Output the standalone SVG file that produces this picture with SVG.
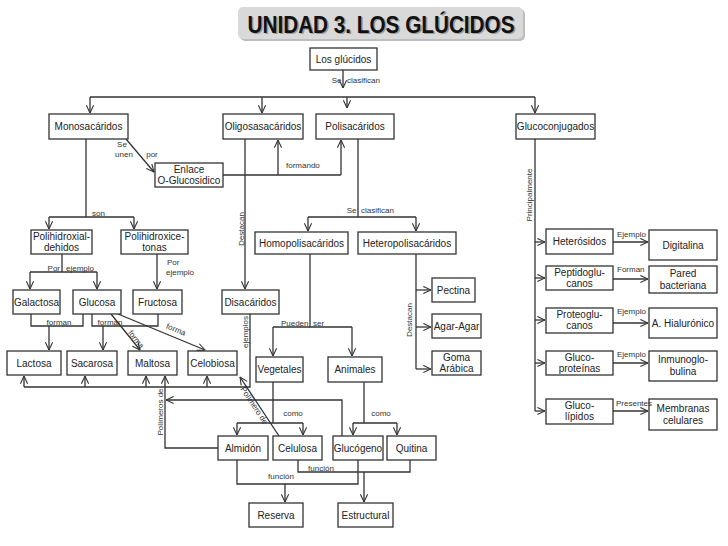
<svg xmlns="http://www.w3.org/2000/svg" width="728" height="546" viewBox="0 0 728 546">
<defs>
<marker id="a" viewBox="0 0 10 10" refX="9.5" refY="5" markerWidth="9" markerHeight="9" orient="auto" markerUnits="userSpaceOnUse">
<path d="M1,1 L9.5,5 L1,9" fill="none" stroke="#333" stroke-width="1.2"/>
</marker>
<style>
.n rect{fill:#fff;stroke:#333;stroke-width:1.3}
.n text,.l{font-family:"Liberation Sans",Arial,sans-serif;fill:#222}
.n text{font-size:10px;text-anchor:middle}
.l{font-size:8px;fill:#333}
.m{text-anchor:middle}
.e{text-anchor:end}
#c path{fill:none;stroke:#333;stroke-width:1.3}
.ar{marker-end:url(#a)}
</style>
</defs>
<rect width="728" height="546" fill="#fff"/>
<g id="title">
<rect x="240" y="9" width="285" height="32" rx="5" fill="#bdbdbd"/>
<rect x="238" y="7" width="285" height="32" rx="5" fill="#d9d9d9"/>
<text x="382.5" y="34.2" font-family="Liberation Sans,Arial,sans-serif" font-weight="bold" font-size="23" text-anchor="middle" textLength="267" lengthAdjust="spacingAndGlyphs" fill="#9a9a9a">UNIDAD 3. LOS GLÚCIDOS</text>
<text x="381" y="32.7" font-family="Liberation Sans,Arial,sans-serif" font-weight="bold" font-size="23" text-anchor="middle" textLength="267" lengthAdjust="spacingAndGlyphs" fill="#111">UNIDAD 3. LOS GLÚCIDOS</text>
</g>
<g id="c">
<path class="ar" d="M343,70 V88"/>
<path d="M90,97 H535"/>
<path class="ar" d="M90,97 V113"/>
<path class="ar" d="M262,97 V113"/>
<path class="ar" d="M347,97 V108"/>
<path class="ar" d="M535,97 V113"/>
<path class="ar" d="M126,139 L154,172"/>
<path d="M223,175 H341"/>
<path class="ar" d="M278,175 V140"/>
<path class="ar" d="M341,175 V140"/>
<path d="M86,139 V217 M49,217 H134"/>
<path class="ar" d="M49,217 V229"/>
<path class="ar" d="M134,217 V229"/>
<path class="ar" d="M245,139 V289"/>
<path d="M358,139 V217 M308,217 H416"/>
<path class="ar" d="M308,217 V231"/>
<path class="ar" d="M416,217 V231"/>
<path d="M62,254 V272 M30,272 H97"/>
<path class="ar" d="M30,272 V289"/>
<path class="ar" d="M97,272 V289"/>
<path class="ar" d="M157,254 V289"/>
<path d="M31,314 V326 H83 V314"/>
<path class="ar" d="M49,326 V350"/>
<path d="M92,314 V326 H158 V314"/>
<path class="ar" d="M103,326 V350"/>
<path class="ar" d="M111,314 L140,350"/>
<path class="ar" d="M118,314 L205,350"/>
<path d="M250,314 V387 H24"/>
<path class="ar" d="M24,387 V376"/>
<path class="ar" d="M85,387 V376"/>
<path class="ar" d="M146,387 V376"/>
<path class="ar" d="M207,387 V376"/>
<path d="M310,254 V327 M273,327 H352"/>
<path class="ar" d="M273,327 V356"/>
<path class="ar" d="M352,327 V356"/>
<path d="M416,254 V369"/>
<path class="ar" d="M416,290 H431"/>
<path class="ar" d="M416,327 H431"/>
<path class="ar" d="M416,369 H431"/>
<path d="M535,139 V411"/>
<path class="ar" d="M535,242 H545"/>
<path class="ar" d="M535,278 H545"/>
<path class="ar" d="M535,320 H545"/>
<path class="ar" d="M535,363 H545"/>
<path class="ar" d="M535,411 H545"/>
<path class="ar" d="M613,242 H648"/>
<path class="ar" d="M613,279 H648"/>
<path class="ar" d="M613,323 H648"/>
<path class="ar" d="M613,363 H648"/>
<path class="ar" d="M613,411 H648"/>
<path d="M273,382 V423 M237,423 H303"/>
<path class="ar" d="M237,423 V435"/>
<path class="ar" d="M303,423 V435"/>
<path d="M364,382 V423 M353,423 H397"/>
<path class="ar" d="M353,423 V435"/>
<path class="ar" d="M397,423 V435"/>
<path class="ar" d="M218,448 H165 V376"/>
<path class="ar" d="M342,436 V400 H166"/>
<path class="ar" d="M279,436 L240,377"/>
<path d="M237,460 V484 H358 V460"/>
<path class="ar" d="M285,484 V502"/>
<path d="M298,460 V472 H410 V460"/>
<path class="ar" d="M364,472 V502"/>
</g>
<g id="n-glucidos" class="n"><rect x="310" y="48" width="67" height="22"/><text x="343.5" y="63">Los glúcidos</text></g>
<g id="n-mono" class="n"><rect x="49" y="114" width="79" height="25"/><text x="88.5" y="130">Monosacáridos</text></g>
<g id="n-oligo" class="n"><rect x="223" y="114" width="80" height="25"/><text x="263" y="130">Oligosasacáridos</text></g>
<g id="n-poli" class="n"><rect x="316" y="114" width="78" height="25"/><text x="355" y="130">Polisacáridos</text></g>
<g id="n-glucoconj" class="n"><rect x="516" y="114" width="79" height="25"/><text x="555.5" y="130">Glucoconjugados</text></g>
<g id="n-enlace" class="n"><rect x="155" y="163" width="68" height="24"/><text x="189" y="173">Enlace</text><text x="189" y="184">O-Glucosidico</text></g>
<g id="n-pald" class="n"><rect x="31" y="230" width="61" height="24"/><text x="61.5" y="240">Polihidroxial-</text><text x="61.5" y="251">dehidos</text></g>
<g id="n-pket" class="n"><rect x="121" y="230" width="67" height="24"/><text x="154.5" y="240">Polihidroxice-</text><text x="154.5" y="251">tonas</text></g>
<g id="n-homo" class="n"><rect x="255" y="232" width="93" height="22"/><text x="301.5" y="246.5">Homopolisacáridos</text></g>
<g id="n-hetero" class="n"><rect x="358" y="232" width="98" height="22"/><text x="407" y="246.5">Heteropolisacáridos</text></g>
<g id="n-heterosidos" class="n"><rect x="546" y="229" width="67" height="25"/><text x="579.5" y="245">Heterósidos</text></g>
<g id="n-digitalina" class="n"><rect x="649" y="230" width="68" height="30"/><text x="683" y="249">Digitalina</text></g>
<g id="n-peptido" class="n"><rect x="546" y="266" width="67" height="24"/><text x="579.5" y="276">Peptidoglu-</text><text x="579.5" y="287">canos</text></g>
<g id="n-pared" class="n"><rect x="649" y="266" width="68" height="27"/><text x="683" y="277">Pared</text><text x="683" y="289">bacteriana</text></g>
<g id="n-galactosa" class="n"><rect x="13" y="290" width="47" height="24"/><text x="36.5" y="306">Galactosa</text></g>
<g id="n-glucosa" class="n"><rect x="73" y="290" width="48" height="24"/><text x="97" y="306">Glucosa</text></g>
<g id="n-fructosa" class="n"><rect x="133" y="290" width="49" height="24"/><text x="157.5" y="306">Fructosa</text></g>
<g id="n-disac" class="n"><rect x="222" y="290" width="57" height="24"/><text x="250.5" y="306">Disacáridos</text></g>
<g id="n-pectina" class="n"><rect x="432" y="278" width="43" height="24"/><text x="453.5" y="294">Pectina</text></g>
<g id="n-proteo" class="n"><rect x="546" y="308" width="67" height="25"/><text x="579.5" y="318">Proteoglu-</text><text x="579.5" y="329">canos</text></g>
<g id="n-hialuronico" class="n"><rect x="649" y="308" width="68" height="30"/><text x="683" y="327">A. Hialurónico</text></g>
<g id="n-agar" class="n"><rect x="432" y="314" width="49" height="24"/><text x="456.5" y="330">Agar-Agar</text></g>
<g id="n-lactosa" class="n"><rect x="7" y="351" width="54" height="24"/><text x="34" y="367">Lactosa</text></g>
<g id="n-sacarosa" class="n"><rect x="67" y="351" width="50" height="24"/><text x="92" y="367">Sacarosa</text></g>
<g id="n-maltosa" class="n"><rect x="128" y="351" width="49" height="24"/><text x="152.5" y="367">Maltosa</text></g>
<g id="n-celobiosa" class="n"><rect x="188" y="351" width="49" height="24"/><text x="212.5" y="367">Celobiosa</text></g>
<g id="n-goma" class="n"><rect x="432" y="351" width="49" height="24"/><text x="456.5" y="361">Goma</text><text x="456.5" y="372">Arábica</text></g>
<g id="n-glucoprot" class="n"><rect x="546" y="351" width="67" height="24"/><text x="579.5" y="361">Gluco-</text><text x="579.5" y="372">proteínas</text></g>
<g id="n-inmuno" class="n"><rect x="649" y="351" width="68" height="30"/><text x="683" y="363">Inmunoglo-</text><text x="683" y="375">bulina</text></g>
<g id="n-vegetales" class="n"><rect x="256" y="357" width="47" height="25"/><text x="279.5" y="373">Vegetales</text></g>
<g id="n-animales" class="n"><rect x="328" y="357" width="54" height="25"/><text x="355" y="373">Animales</text></g>
<g id="n-glucolip" class="n"><rect x="546" y="399" width="67" height="25"/><text x="579.5" y="409">Gluco-</text><text x="579.5" y="420">lípidos</text></g>
<g id="n-membranas" class="n"><rect x="649" y="399" width="68" height="31"/><text x="683" y="412">Membranas</text><text x="683" y="424">celulares</text></g>
<g id="n-almidon" class="n"><rect x="218" y="436" width="50" height="24"/><text x="243" y="452">Almidón</text></g>
<g id="n-celulosa" class="n"><rect x="273" y="436" width="49" height="24"/><text x="297.5" y="452">Celulosa</text></g>
<g id="n-glucogeno" class="n"><rect x="333" y="436" width="50" height="24"/><text x="358" y="452">Glucógeno</text></g>
<g id="n-quitina" class="n"><rect x="387" y="436" width="49" height="24"/><text x="411.5" y="452">Quitina</text></g>
<g id="n-reserva" class="n"><rect x="249" y="503" width="54" height="24"/><text x="276" y="519">Reserva</text></g>
<g id="n-estructural" class="n"><rect x="338" y="503" width="55" height="24"/><text x="365.5" y="519">Estructural</text></g>
<g id="labels">
<text class="l e" x="341.5" y="83">Se</text>
<text class="l" x="347" y="83">clasifican</text>
<text class="l m" x="122" y="147">Se</text>
<text class="l m" x="124" y="157">unen</text>
<text class="l m" x="152" y="157">por</text>
<text class="l" x="286" y="168">formando</text>
<text class="l" x="92" y="216">son</text>
<text class="l e" x="356.5" y="213">Se</text>
<text class="l" x="361" y="213">clasifican</text>
<text class="l m" transform="translate(244,229) rotate(-90)">Destacan</text>
<text class="l m" transform="translate(532,195) rotate(-90)">Principalmente</text>
<text class="l e" x="60" y="271">Por</text>
<text class="l" x="66" y="271">ejemplo</text>
<text class="l" x="167" y="265">Por</text>
<text class="l" x="166" y="275">ejemplo</text>
<text class="l m" x="59" y="325">forman</text>
<text class="l m" x="110" y="325">forman</text>
<text class="l m" transform="translate(134,341) rotate(52)">forma</text>
<text class="l m" transform="translate(175,332) rotate(22)">forma</text>
<text class="l m" transform="translate(248,332) rotate(-90)">ejemplos</text>
<text class="l e" x="308.5" y="326">Pueden</text>
<text class="l" x="313" y="326">ser</text>
<text class="l m" transform="translate(412,320) rotate(-90)">Destacan</text>
<text class="l" x="617" y="237">Ejemplo</text>
<text class="l" x="617" y="272">Forman</text>
<text class="l" x="617" y="314">Ejemplo</text>
<text class="l" x="617" y="357">Ejemplo</text>
<text class="l" x="616" y="406">Presentes</text>
<text class="l m" transform="translate(163,412) rotate(-90)">Polímeros de</text>
<text class="l m" transform="translate(252,407) rotate(56.8)">Polímero de</text>
<text class="l m" x="293" y="416">como</text>
<text class="l m" x="381" y="416">como</text>
<text class="l m" x="281" y="479">función</text>
<text class="l m" x="321" y="471">función</text>
</g>
</svg>
